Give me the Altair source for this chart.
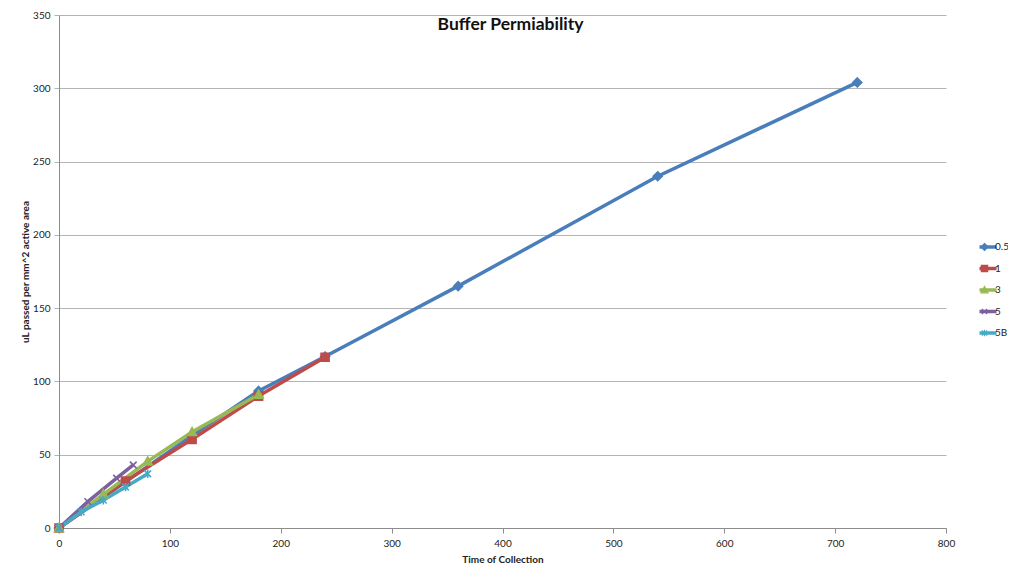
import altair as alt
import pandas as pd

series_names = ["0.5", "1", "3", "5", "5B"]
colors = ["#4a7ebb", "#be4b48", "#98b954", "#7d60a0", "#46aac5"]

t_05 = [0, 120, 180, 240, 360, 540, 720]
v_05 = [0, 63, 93.5, 117, 165, 240, 304]
t_1 = [0, 60, 120, 180, 240]
v_1 = [0, 32, 60.5, 90, 116.5]
t_3 = [0, 40, 80, 120, 180]
v_3 = [0, 23, 45.5, 65.5, 91]
t_5 = [0, 26, 52, 67]
v_5 = [0, 18, 34, 43]
t_5b = [0, 20, 40, 60, 80]
v_5b = [0, 11, 19, 28, 37]

x_ticks = [0, 100, 200, 300, 400, 500, 600, 700, 800]
y_ticks = [0, 50, 100, 150, 200, 250, 300, 350]

rows = []
for name, ts, vs in zip(series_names, [t_05, t_1, t_3, t_5, t_5b], [v_05, v_1, v_3, v_5, v_5b]):
    for i, (t, v) in enumerate(zip(ts, vs)):
        rows.append({"series": name, "time": t, "value": v, "order": i})
df = pd.DataFrame(rows)

point_shapes = [
    "M0,-1L1,0L0,1L-1,0Z",
    "M-0.9,-0.9H0.9V0.9H-0.9Z",
    "M0,-1L1,0.8H-1Z",
    "M-0.75,-0.75L0.75,0.75M-0.75,0.75L0.75,-0.75",
    "M-0.75,-0.75L0.75,0.75M-0.75,0.75L0.75,-0.75M0,-0.95V0.95",
]

font = "Lato"
LEG_X = 920.5
LEG_Y = 227
LEG_SIZE = 49
LEG_ROWPAD = 11.5
LEG_CLIP = 10

x_enc = alt.X("time:Q", title="Time of Collection",
              scale=alt.Scale(domain=[0, 800], nice=False),
              axis=alt.Axis(values=x_ticks, grid=False, tickSize=5, labelPadding=5,
                            labelFlush=False, titlePadding=6,
                            domainColor="#8c8c8c", tickColor="#8c8c8c"))
y_enc = alt.Y("value:Q", title="uL passed per mm^2 active area",
              scale=alt.Scale(domain=[0, 350], nice=False),
              axis=alt.Axis(values=y_ticks, grid=True, gridColor="#b4b4b4", tickSize=5,
                            labelPadding=4, labelFlush=False, titlePadding=2,
                            domainColor="#8c8c8c", tickColor="#b4b4b4"))


def make_legend(**kw):
    base = dict(title=None, orient="none", legendX=LEG_X, legendY=LEG_Y,
                symbolSize=LEG_SIZE, rowPadding=LEG_ROWPAD, clipHeight=LEG_CLIP,
                labelOffset=4.5, labelFont=font, labelFontSize=10, labelColor="#222222")
    base.update(kw)
    return alt.Legend(**base)


lines = alt.Chart(df).mark_line(strokeWidth=3.5).encode(
    x=x_enc, y=y_enc,
    color=alt.Color("series:N", scale=alt.Scale(domain=series_names, range=colors),
                    legend=make_legend(symbolType="M-3.3,0H3.3", symbolStrokeWidth=3.5,
                                       zindex=1)),
    detail="series:N",
    order="order:Q",
)

points = alt.Chart(df).mark_point(filled=True, size=80, strokeWidth=1.6, opacity=1).encode(
    x="time:Q", y="value:Q",
    color=alt.Color("series:N", scale=alt.Scale(domain=series_names, range=colors),
                    legend=make_legend(symbolStrokeWidth=1.2, labelOpacity=0, zindex=2)),
    stroke=alt.Stroke("series:N", scale=alt.Scale(domain=series_names, range=colors),
                      legend=make_legend(symbolStrokeWidth=1.2, labelOpacity=0, zindex=2)),
    shape=alt.Shape("series:N", scale=alt.Scale(domain=series_names, range=point_shapes),
                    legend=make_legend(symbolStrokeWidth=1.2, labelOpacity=0, zindex=2)),
)

chart = alt.layer(lines, points).resolve_scale(
    color="independent", stroke="independent", shape="independent"
).properties(
    width=887, height=513,
    padding={"left": 51, "top": 7, "right": 62, "bottom": 40},
    autosize=alt.AutoSizeParams(type="none"),
    title=alt.TitleParams("Buffer Permiability", fontSize=17.5, font=font, fontWeight="bold",
                          color="#111111", offset=-23, anchor="middle", dx=8),
).configure_view(stroke=None).configure_axis(
    labelFont=font, labelFontSize=10, labelColor="#222222",
    titleFont=font, titleFontSize=10, titleFontWeight="bold", titleColor="#222222",
)

chart.save("out.html", embed_options={"renderer": "svg", "actions": False})
